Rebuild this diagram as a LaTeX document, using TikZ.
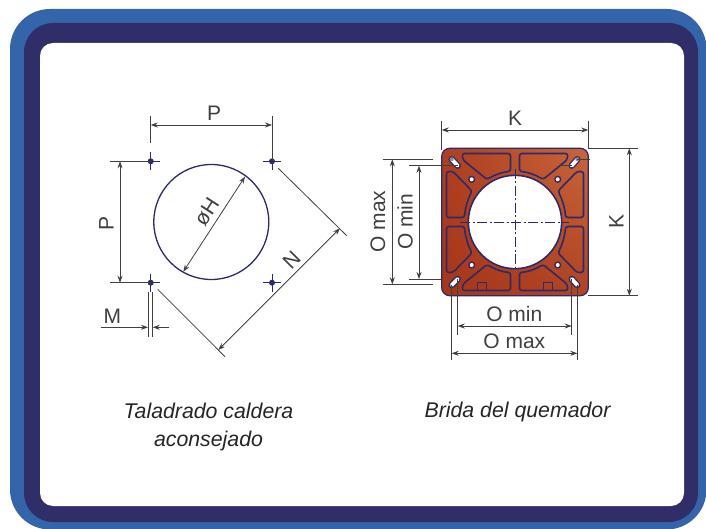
\documentclass[tikz,border=0pt]{standalone}
\usepackage{fontspec}
\setmainfont{Liberation Sans}
\usetikzlibrary{arrows.meta,shadings}
\definecolor{frameblue}{HTML}{3465AB}
\definecolor{framenavy}{HTML}{302E68}
\definecolor{navy}{HTML}{2B2A6B}
\definecolor{dimgray}{HTML}{404040}
\definecolor{platelo}{HTML}{A63518}
\definecolor{platehi}{HTML}{C9663A}
\tikzset{
  dimline/.style={draw=dimgray,line width=0.8pt,{Stealth[length=7pt,width=5pt]}-{Stealth[length=7pt,width=5pt]}},
  extline/.style={draw=dimgray,line width=0.8pt},
  dimlabel/.style={text=dimgray,inner sep=0pt,font=\fontsize{21}{22}\selectfont},
  caption/.style={text=black!85,align=center,font=\fontsize{21.3}{28.5}\selectfont\itshape},
  crossline/.style={draw=navy,line width=0.9pt},
  pocket/.style={draw=navy,line width=1.6pt,rounded corners=2.5pt},
  centerl/.style={draw=navy,line width=0.8pt,dash pattern=on 10pt off 2.5pt on 2pt off 2.5pt},
}
\newcommand{\crosshair}[1]{%
  \draw[crossline] ([xshift=-9pt]#1) -- ([xshift=9pt]#1);
  \draw[crossline] ([yshift=-9pt]#1) -- ([yshift=9pt]#1);
  \fill[navy] (#1) circle (3pt);
}
\newcommand{\slothole}[2]{%
  \draw[navy,line width=6.5pt,line cap=round] (#1) -- (#2);
  \draw[white,line width=3.8pt,line cap=round] (#1) -- (#2);
}
\begin{document}
\begin{tikzpicture}[x=1pt,y=-1pt]
\useasboundingbox (0,0) rectangle (706,529);
% frame
\fill[frameblue,rounded corners=40pt] (10,9) rectangle (706.5,529.5);
\fill[framenavy,rounded corners=29pt] (24,23) rectangle (698,522);
\fill[white,rounded corners=13pt] (40,43) rectangle (684,506);

% ---- left drawing
\coordinate (hc) at (211.3,222);
\coordinate (h1) at (150.7,161.3);
\coordinate (h2) at (272,161.3);
\coordinate (h3) at (150.7,282.7);
\coordinate (h4) at (272,282.7);
\draw[navy,line width=1.3pt] (hc) circle (57.5pt);
\crosshair{h1}\crosshair{h2}\crosshair{h3}\crosshair{h4}

\coordinate (pta) at (150.7,125);
\coordinate (ptb) at (272,125);
\coordinate (pte1) at (150.7,116);
\coordinate (pte2) at (150.7,143);
\coordinate (pte3) at (272,116);
\draw[extline] (pte1) -- (pte2);
\draw[extline] (pte3) -- (h2);
\draw[dimline] (pta) -- (ptb);
\node[dimlabel] (lblPt) at (214,113) {P};

\coordinate (pla) at (120,161.3);
\coordinate (plb) at (120,282.7);
\coordinate (ple1) at (110,161.3);
\coordinate (ple2) at (110,282.7);
\draw[extline] (ple1) -- (h1);
\draw[extline] (ple2) -- (h3);
\draw[dimline] (pla) -- (plb);
\node[dimlabel,rotate=90] (lblPl) at (106.5,223) {P};

\coordinate (da) at (245,176.7);
\coordinate (db) at (183.3,271.7);
\draw[dimline] (da) -- (db);
\node[dimlabel,rotate=57] (lblH) at (206.5,211.5) {øH};

\coordinate (m1a) at (148,291.7);
\coordinate (m1b) at (148,337);
\coordinate (m2a) at (152.7,291.7);
\coordinate (m2b) at (152.7,337);
\coordinate (mL) at (100.7,327.3);
\coordinate (mLe) at (148,327.3);
\coordinate (mR) at (169,327.3);
\coordinate (mRe) at (152.7,327.3);
\draw[extline] (m1a) -- (m1b);
\draw[extline] (m2a) -- (m2b);
\draw[extline,-{Stealth[length=7pt,width=5pt]}] (mL) -- (mLe);
\draw[extline,-{Stealth[length=7pt,width=5pt]}] (mR) -- (mRe);
\node[dimlabel] (lblM) at (112.3,316) {M};

\coordinate (n1a) at (278.3,168.3);
\coordinate (n1b) at (346.7,235.7);
\coordinate (n2a) at (157.7,289.3);
\coordinate (n2b) at (225,356.7);
\coordinate (na) at (340,228.3);
\coordinate (nb) at (218.3,350);
\draw[extline] (n1a) -- (n1b);
\draw[extline] (n2a) -- (n2b);
\draw[dimline] (na) -- (nb);
\node[dimlabel,rotate=45] (lblN) at (291.5,260) {N};

\node[caption] (capL) at (208.5,427) {Taladrado caldera\\aconsejado};

% ---- right drawing
\coordinate (pc) at (515,222);
\shadedraw[draw=navy,line width=1.2pt,rounded corners=8pt,lower left=platelo,lower right=platelo!70!platehi,upper left=platelo!80!platehi,upper right=platehi]
  (441.7,148.3) rectangle (588.3,295.7);
\foreach \sx/\sy in {1/1,-1/1,1/-1,-1/-1}{
  \begin{scope}[shift={(pc)},xscale=\sx,yscale=\sy]
    \draw[pocket] (-53,-68.5) -- (-4.5,-68.5) -- (-4.5,-50.5)
      .. controls (-12,-50) and (-20,-47.5) .. (-28,-42.5) -- (-52,-62) -- cycle;
    \draw[pocket] (-68.5,-50.5) -- (-62,-50.5) -- (-43,-31)
      .. controls (-47.5,-22) and (-50,-13) .. (-50.5,-4.5) -- (-68.5,-4.5) -- cycle;
  \end{scope}
}
\foreach \sx in {1,-1}{
  \begin{scope}[shift={(pc)},xscale=\sx]
    \draw[navy,line width=1.5pt] (-37.7,68.5) -- (-37.7,60.7) -- (-28.3,60.7) -- (-28.3,68.5);
  \end{scope}
}
\draw[draw=navy,line width=1.6pt,fill=white] (pc) circle (46.7pt);
\draw[centerl] (460,222) -- (569,222);
\draw[centerl] (515,169) -- (515,267);

\foreach \hx/\hy in {471.7/179.3,557.7/179.3,471.7/265,557.7/265}{
  \fill[navy] (\hx,\hy) circle (3.6pt);
  \fill[white] (\hx,\hy) circle (2pt);
}
\coordinate (s1a) at (451.7,159.3); \coordinate (s1b) at (457.7,165.7);
\coordinate (s2a) at (577.3,159.3); \coordinate (s2b) at (571.7,165.7);
\coordinate (s3a) at (451.7,285);   \coordinate (s3b) at (457.7,279);
\coordinate (s4a) at (577.3,285);   \coordinate (s4b) at (571.7,279);
\slothole{s1a}{s1b}\slothole{s2a}{s2b}\slothole{s3a}{s3b}\slothole{s4a}{s4b}
\fill[navy!55!white] (s1a) circle (2pt);
\fill[navy!55!white] (s2a) circle (2pt);

% K top
\coordinate (kta) at (441.7,130);
\coordinate (ktb) at (588.3,130);
\coordinate (kte1) at (441.7,120.7);
\coordinate (kte2) at (441.7,150);
\coordinate (kte3) at (588.3,120.7);
\coordinate (kte4) at (588.3,148.3);
\draw[extline] (kte1) -- (kte2);
\draw[extline] (kte3) -- (kte4);
\draw[dimline] (kta) -- (ktb);
\node[dimlabel] (lblKt) at (515,118) {K};
% K right
\coordinate (kra) at (629.3,148.3);
\coordinate (krb) at (629.3,295.7);
\coordinate (kre1) at (638,148.3);
\coordinate (kre2) at (638,295.7);
\coordinate (kre3) at (588.3,148.3);
\coordinate (kre4) at (588.3,295.7);
\draw[extline] (kre3) -- (kre1);
\draw[extline] (kre4) -- (kre2);
\draw[dimline] (kra) -- (krb);
\node[dimlabel,rotate=90] (lblKr) at (616.5,221) {K};
% O max left
\coordinate (oma) at (392.3,159.3);
\coordinate (omb) at (392.3,284.3);
\coordinate (ome1) at (382.7,159.3);
\coordinate (ome2) at (432.7,159.3);
\coordinate (ome3) at (382.7,284.3);
\coordinate (ome4) at (432.7,284.3);
\draw[extline] (ome1) -- (ome2);
\draw[extline] (ome3) -- (ome4);
\draw[dimline] (oma) -- (omb);
\node[dimlabel,rotate=90] (lblOml) at (378,221.7) {O max};
% O min left
\coordinate (ona) at (419,165.7);
\coordinate (onb) at (419,279);
\coordinate (one1) at (409.3,165.7);
\coordinate (one2) at (409.3,279);
\coordinate (one3) at (443,279);
\draw[extline] (one1) -- (s1b);
\draw[extline] (one2) -- (one3);
\draw[dimline] (ona) -- (onb);
\node[dimlabel,rotate=90] (lblOnl) at (405,221.7) {O min};
% small lines at right upper slot
\coordinate (tr1) at (560,165.7);
\coordinate (tr2) at (590,159.3);
\draw[extline] (tr1) -- (s2b);
\draw[extline] (s2a) -- (tr2);
% O min bottom
\coordinate (obna) at (457.7,326);
\coordinate (obnb) at (571.7,326);
\coordinate (obe1) at (457.7,335);
\coordinate (obe2) at (571.7,335);
\draw[extline] (s3b) -- (obe1);
\draw[extline] (s4b) -- (obe2);
\draw[dimline] (obna) -- (obnb);
\node[dimlabel] (lblOnb) at (514.3,313.5) {O min};
% O max bottom
\coordinate (obma) at (451.7,353.3);
\coordinate (obmb) at (577.3,353.3);
\coordinate (obe3) at (451.7,360);
\coordinate (obe4) at (577.3,360);
\draw[extline] (s3a) -- (obe3);
\draw[extline] (s4a) -- (obe4);
\draw[dimline] (obma) -- (obmb);
\node[dimlabel] (lblOmb) at (514.3,341) {O max};

\node[caption] (capR) at (517.5,412) {Brida del quemador};
\end{tikzpicture}
\end{document}
